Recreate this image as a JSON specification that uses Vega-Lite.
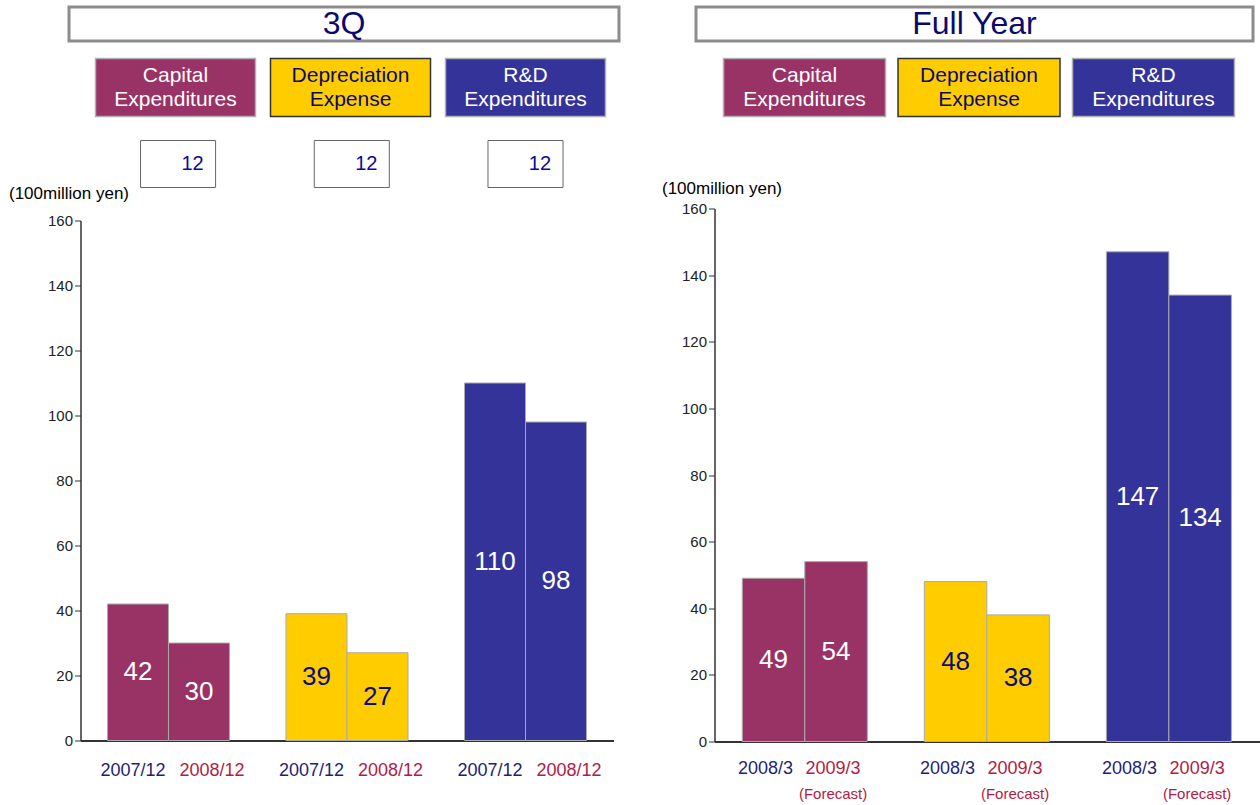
{
  "$schema": "https://vega.github.io/schema/vega-lite/v6.json",
  "padding": {"left": 8, "top": 5, "right": 0, "bottom": 0},
  "background": "white",
  "config": {"view": {"stroke": null}, "font": "Liberation Sans"},
  "resolve": {"scale": {"xOffset": "independent"}},
  "datasets": {
    "q3": [
      {"group": "Capital Expenditures", "period": "2007/12", "value": 42},
      {"group": "Capital Expenditures", "period": "2008/12", "value": 30},
      {"group": "Depreciation Expense", "period": "2007/12", "value": 39},
      {"group": "Depreciation Expense", "period": "2008/12", "value": 27},
      {"group": "R&D Expenditures", "period": "2007/12", "value": 110},
      {"group": "R&D Expenditures", "period": "2008/12", "value": 98}
    ],
    "fy": [
      {"group": "Capital Expenditures", "period": "2008/3", "value": 49, "note": ""},
      {"group": "Capital Expenditures", "period": "2009/3", "value": 54, "note": "(Forecast)"},
      {"group": "Depreciation Expense", "period": "2008/3", "value": 48, "note": ""},
      {"group": "Depreciation Expense", "period": "2009/3", "value": 38, "note": "(Forecast)"},
      {"group": "R&D Expenditures", "period": "2008/3", "value": 147, "note": ""},
      {"group": "R&D Expenditures", "period": "2009/3", "value": 134, "note": "(Forecast)"}
    ],
    "cats": [
      {"group": "Capital Expenditures", "label": "Capital\nExpenditures", "box": 12},
      {"group": "Depreciation Expense", "label": "Depreciation\nExpense", "box": 12},
      {"group": "R&D Expenditures", "label": "R&D\nExpenditures", "box": 12}
    ]
  },
  "spacing": 40,
  "hconcat": [
    {
      "bounds": "flush",
      "spacing": 17.5,
      "vconcat": [
        {
          "width": 550, "height": 34,
          "view": {"stroke": "#8c8c8c", "strokeWidth": 3, "fill": "white"},
          "data": {"values": [{"t": "3Q"}]},
          "mark": {"type": "text", "fontSize": 32, "color": "#0a0a6e"},
          "encoding": {"text": {"field": "t"}}
        },
        {
          "width": 550, "height": 58,
          "data": {"name": "cats"},
          "encoding": {
            "x": {"field": "group", "type": "nominal", "sort": ["Capital Expenditures", "Depreciation Expense", "R&D Expenditures"], "scale": {"paddingInner": 0.0857, "paddingOuter": 0.1143, "align": 0.6625}, "axis": null}
          },
          "layer": [
            {
              "mark": {"type": "rect", "strokeWidth": 1.5},
              "encoding": {
                "fill": {"field": "group", "type": "nominal", "scale": {"domain": ["Capital Expenditures", "Depreciation Expense", "R&D Expenditures"], "range": ["#993366", "#FFCC00", "#333399"]}, "legend": null},
                "stroke": {"condition": {"test": "datum.group === 'Depreciation Expense'", "value": "#333333"}, "value": "#b0b0b0"}
              }
            },
            {
              "mark": {"type": "text", "fontSize": 21, "lineHeight": 24, "lineBreak": "\n", "dy": -12},
              "encoding": {
                "text": {"field": "label"},
                "color": {"condition": {"test": "datum.group === 'Depreciation Expense'", "value": "#0a0a6e"}, "value": "white"}
              }
            }
          ]
        },
        {
          "width": 550, "height": 69,
          "data": {"name": "cats"},
          "encoding": {
            "x": {"field": "group", "type": "nominal", "sort": ["Capital Expenditures", "Depreciation Expense", "R&D Expenditures"], "scale": {"paddingInner": 0.568, "paddingOuter": 0.367, "align": 0.561}, "axis": null},
            "y": {"field": "box", "type": "nominal", "scale": {"paddingInner": 0, "paddingOuter": 0.234, "align": 0.295}, "axis": null}
          },
          "layer": [
            {"mark": {"type": "rect", "fill": "white", "stroke": "#666666", "strokeWidth": 1}},
            {"mark": {"type": "text", "fontSize": 20, "color": "#0a0a9a", "dx": 14.5}, "encoding": {"text": {"field": "box"}}}
          ]
        },
        {
          "width": 550, "height": 520,
          "data": {"name": "q3"},
          "encoding": {
            "x": {"field": "group", "type": "nominal", "sort": ["Capital Expenditures", "Depreciation Expense", "R&D Expenditures"], "scale": {"range": [11.5, 544.5], "paddingInner": 0.3165, "paddingOuter": 0.151}, "axis": {"title": null, "labels": false, "ticks": false, "domainColor": "#333333", "domainWidth": 2}},
            "xOffset": {"field": "period", "type": "nominal", "sort": ["2007/12", "2008/12"], "scale": {"paddingInner": 0, "paddingOuter": 0}}
          },
          "layer": [
            {
              "mark": {"type": "bar", "stroke": "#aaaaaa", "strokeWidth": 1},
              "encoding": {
                "y": {"field": "value", "type": "quantitative", "scale": {"domain": [0, 160], "nice": false}, "axis": {"offset": -11.5, "title": "(100million yen)", "titleAngle": 0, "titleAlign": "left", "titleBaseline": "middle", "titleX": -72, "titleY": -27, "titleFontSize": 17, "titleFontWeight": "normal", "titleColor": "black", "values": [0, 20, 40, 60, 80, 100, 120, 140, 160], "grid": false, "domainColor": "#333333", "domainWidth": 1.5, "tickColor": "#333333", "tickSize": 6, "labelFontSize": 15, "labelColor": "#222222", "labelPadding": 2}},
                "color": {"field": "group", "type": "nominal", "scale": {"domain": ["Capital Expenditures", "Depreciation Expense", "R&D Expenditures"], "range": ["#993366", "#FFCC00", "#333399"]}, "legend": null}
              }
            },
            {
              "mark": {"type": "text", "fontSize": 26},
              "encoding": {
                "y": {"field": "value", "type": "quantitative", "scale": {"domain": [0, 320], "nice": false}, "axis": null},
                "text": {"field": "value"},
                "color": {"condition": {"test": "datum.group === 'Depreciation Expense'", "value": "#0b0b80"}, "value": "white"}
              }
            },
            {
              "transform": [{"filter": "datum.period === '2007/12'"}],
              "mark": {"type": "text", "fontSize": 18, "baseline": "middle", "dy": 30, "dx": -5, "color": "#1e1e78"},
              "encoding": {
                "y": {"datum": 0, "type": "quantitative", "scale": {"domain": [0, 160], "nice": false}, "axis": null},
                "text": {"field": "period"}
              }
            },
            {
              "transform": [{"filter": "datum.period === '2008/12'"}],
              "mark": {"type": "text", "fontSize": 18, "baseline": "middle", "dy": 30, "dx": 13, "color": "#b31b45"},
              "encoding": {
                "y": {"datum": 0, "type": "quantitative", "scale": {"domain": [0, 160], "nice": false}, "axis": null},
                "text": {"field": "period"}
              }
            }
          ],
          "resolve": {"scale": {"y": "independent"}}
        }
      ]
    },
    {
      "bounds": "flush",
      "spacing": 17.5,
      "vconcat": [
        {
          "width": 557, "height": 34,
          "view": {"stroke": "#8c8c8c", "strokeWidth": 3, "fill": "white"},
          "data": {"values": [{"t": "Full Year"}]},
          "mark": {"type": "text", "fontSize": 32, "color": "#0a0a6e"},
          "encoding": {"text": {"field": "t"}}
        },
        {
          "width": 557, "height": 58,
          "data": {"name": "cats"},
          "encoding": {
            "x": {"field": "group", "type": "nominal", "sort": ["Capital Expenditures", "Depreciation Expense", "R&D Expenditures"], "scale": {"paddingInner": 0.0716, "paddingOuter": 0.132, "align": 0.598}, "axis": null}
          },
          "layer": [
            {
              "mark": {"type": "rect", "strokeWidth": 1.5},
              "encoding": {
                "fill": {"field": "group", "type": "nominal", "scale": {"domain": ["Capital Expenditures", "Depreciation Expense", "R&D Expenditures"], "range": ["#993366", "#FFCC00", "#333399"]}, "legend": null},
                "stroke": {"condition": {"test": "datum.group === 'Depreciation Expense'", "value": "#333333"}, "value": "#b0b0b0"}
              }
            },
            {
              "mark": {"type": "text", "fontSize": 21, "lineHeight": 24, "lineBreak": "\n", "dy": -12},
              "encoding": {
                "text": {"field": "label"},
                "color": {"condition": {"test": "datum.group === 'Depreciation Expense'", "value": "#0a0a6e"}, "value": "white"}
              }
            }
          ]
        },
        {"width": 1, "height": 57, "data": {"values": []}, "mark": "rect"},
        {
          "width": 565.5, "height": 533,
          "data": {"name": "fy"},
          "encoding": {
            "x": {"field": "group", "type": "nominal", "sort": ["Capital Expenditures", "Depreciation Expense", "R&D Expenditures"], "scale": {"range": [18.5, 565.5], "paddingInner": 0.313, "paddingOuter": 0.159, "align": 0.48}, "axis": {"title": null, "labels": false, "ticks": false, "domainColor": "#333333", "domainWidth": 2}},
            "xOffset": {"field": "period", "type": "nominal", "sort": ["2008/3", "2009/3"], "scale": {"paddingInner": 0, "paddingOuter": 0}}
          },
          "layer": [
            {
              "mark": {"type": "bar", "stroke": "#aaaaaa", "strokeWidth": 1},
              "encoding": {
                "y": {"field": "value", "type": "quantitative", "scale": {"domain": [0, 160], "nice": false}, "axis": {"offset": -18.5, "title": "(100million yen)", "titleAngle": 0, "titleAlign": "left", "titleBaseline": "middle", "titleX": -53, "titleY": -20, "titleFontSize": 17, "titleFontWeight": "normal", "titleColor": "black", "values": [0, 20, 40, 60, 80, 100, 120, 140, 160], "grid": false, "domainColor": "#333333", "domainWidth": 1.5, "tickColor": "#333333", "tickSize": 6, "labelFontSize": 15, "labelColor": "#222222", "labelPadding": 2}},
                "color": {"field": "group", "type": "nominal", "scale": {"domain": ["Capital Expenditures", "Depreciation Expense", "R&D Expenditures"], "range": ["#993366", "#FFCC00", "#333399"]}, "legend": null}
              }
            },
            {
              "mark": {"type": "text", "fontSize": 26},
              "encoding": {
                "y": {"field": "value", "type": "quantitative", "scale": {"domain": [0, 320], "nice": false}, "axis": null},
                "text": {"field": "value"},
                "color": {"condition": {"test": "datum.group === 'Depreciation Expense'", "value": "#0b0b80"}, "value": "white"}
              }
            },
            {
              "transform": [{"filter": "datum.period === '2008/3'"}],
              "mark": {"type": "text", "fontSize": 18, "baseline": "middle", "dy": 27, "dx": -8, "color": "#1e1e78"},
              "encoding": {
                "y": {"datum": 0, "type": "quantitative", "scale": {"domain": [0, 160], "nice": false}, "axis": null},
                "text": {"field": "period"}
              }
            },
            {
              "transform": [{"filter": "datum.period === '2009/3'"}],
              "mark": {"type": "text", "fontSize": 18, "baseline": "middle", "dy": 27, "dx": -3, "color": "#b31b45"},
              "encoding": {
                "y": {"datum": 0, "type": "quantitative", "scale": {"domain": [0, 160], "nice": false}, "axis": null},
                "text": {"field": "period"}
              }
            },
            {
              "mark": {"type": "text", "fontSize": 15, "baseline": "middle", "dy": 52, "dx": -3, "color": "#b31b45"},
              "encoding": {
                "y": {"datum": 0, "type": "quantitative", "scale": {"domain": [0, 160], "nice": false}, "axis": null},
                "text": {"field": "note"}
              }
            }
          ],
          "resolve": {"scale": {"y": "independent"}}
        }
      ]
    }
  ]
}
